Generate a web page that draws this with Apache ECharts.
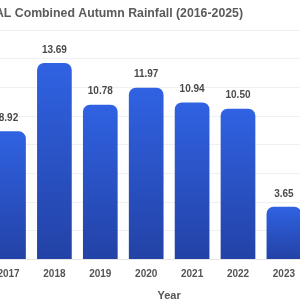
<!DOCTYPE html>
<html>
<head>
<meta charset="utf-8">
<script src="https://cdn.jsdelivr.net/npm/echarts@6/dist/echarts.min.js"></script>
<style>
html,body{margin:0;padding:0;width:300px;height:300px;overflow:hidden;background:#fff;}
#chart{position:absolute;left:-130px;top:0;width:560px;height:300px;}
</style>
</head>
<body>
<div id="chart"></div>
<script>
const titleText = 'TOTAL Combined Autumn Rainfall (2016-2025)';
const years = ['2016','2017','2018','2019','2020','2021','2022','2023','2024','2025'];
const rainfall = [null, 8.92, 13.69, 10.78, 11.97, 10.94, 10.50, 3.65, null, null];
const yTicks = [0, 2, 4, 6, 8, 10, 12, 14, 16];

const titleFont = 'bold 12.3px "Liberation Sans", Arial, sans-serif';
const ctx = document.createElement('canvas').getContext('2d');
ctx.font = titleFont;
const titleW = ctx.measureText(titleText).width;

const chart = echarts.init(document.getElementById('chart'));
chart.setOption({
  animation: false,
  graphic: [{
    type: 'text',
    left: 130 + 243 - titleW,
    top: 8,
    style: {
      text: titleText,
      font: titleFont,
      fill: '#5a5a5a'
    }
  }],
  grid: {left: 69.65, right: 31.35, top: 30, bottom: 41, outerBoundsMode: 'none', containLabel: false},
  xAxis: {
    type: 'category',
    data: years,
    name: 'Year',
    nameLocation: 'middle',
    nameGap: 31,
    nameTextStyle: {fontFamily: 'Liberation Sans, Arial, sans-serif', fontSize: 11, fontWeight: 'bold', color: '#555'},
    axisLine: {lineStyle: {color: '#e6e6e6'}},
    axisTick: {show: false},
    axisLabel: {fontFamily: 'Liberation Sans, Arial, sans-serif', fontSize: 10, fontWeight: 'bold', color: '#555', margin: 10}
  },
  yAxis: {
    type: 'value',
    min: yTicks[0],
    max: yTicks[yTicks.length - 1],
    interval: yTicks[1] - yTicks[0],
    axisLabel: {color: '#777'},
    splitLine: {lineStyle: {color: '#f0f0f0'}}
  },
  series: [{
    type: 'bar',
    data: rainfall,
    barWidth: '75.6%',
    itemStyle: {
      borderRadius: [7, 7, 0, 0],
      color: new echarts.graphic.LinearGradient(0, 0, 0, 1, [
        {offset: 0, color: '#3062e2'},
        {offset: 1, color: '#2342a6'}
      ], false)
    },
    label: {
      show: true,
      position: 'top',
      distance: 8,
      formatter: p => p.value == null ? '' : p.value.toFixed(2),
      fontFamily: 'Liberation Sans, Arial, sans-serif',
      fontSize: 10,
      fontWeight: 'bold',
      color: '#4a4a4a'
    }
  }]
});
</script>
</body>
</html>
